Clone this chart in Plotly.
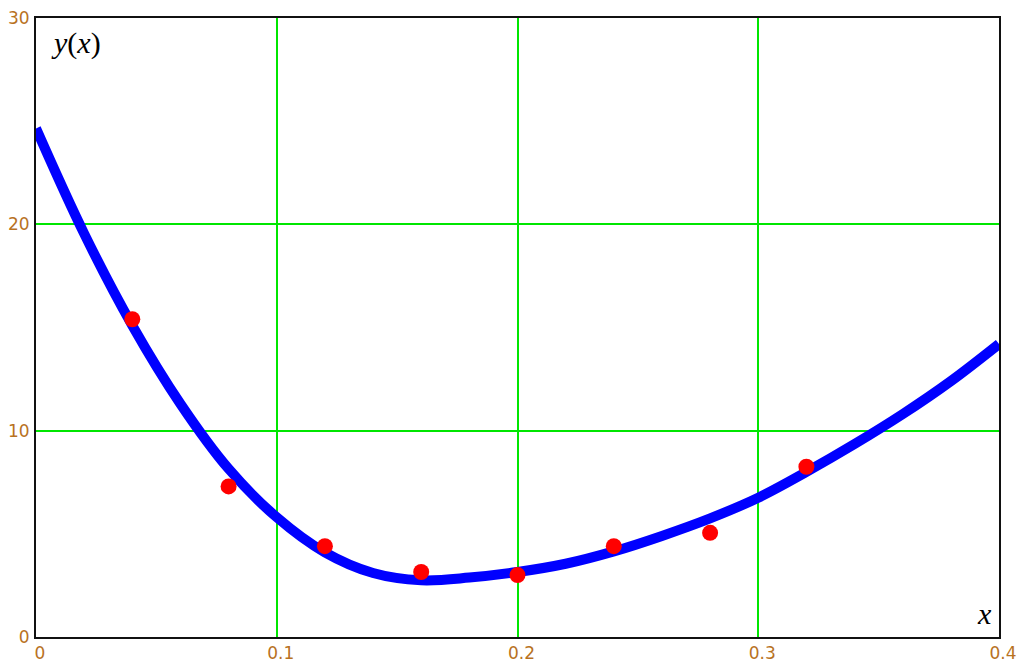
import plotly.graph_objects as go

# Data points (red markers)
pts_x = [0.04, 0.08, 0.12, 0.16, 0.20, 0.24, 0.28, 0.32]
pts_y = [15.4, 7.3, 4.4, 3.15, 3.0, 4.4, 5.05, 8.25]

# Fitted curve y(x)
curve_x = [0.00, 0.02, 0.04, 0.06, 0.08, 0.10, 0.12, 0.14, 0.16, 0.18, 0.20,
           0.22, 0.24, 0.26, 0.28, 0.30, 0.32, 0.34, 0.36, 0.38, 0.40]
curve_y = [24.65, 19.55, 15.1, 11.3, 8.15, 5.8, 4.1, 3.1, 2.75, 2.88, 3.15,
           3.55, 4.15, 4.9, 5.75, 6.75, 8.0, 9.35, 10.8, 12.4, 14.2]

x_ticks = [0, 0.1, 0.2, 0.3, 0.4]
x_ticktext = ["0", "0.1", "0.2", "0.3", "0.4"]
y_ticks = [0, 10, 20, 30]
y_ticktext = ["0", "10", "20", "30"]

tick_color = "#b8721f"
grid_color = "#00e600"

fig = go.Figure()
fig.add_trace(go.Scatter(
    x=curve_x, y=curve_y, mode="lines",
    line=dict(color="#0000ff", width=10, shape="spline", smoothing=1.0),
    showlegend=False, hoverinfo="skip"))
fig.add_trace(go.Scatter(
    x=pts_x, y=pts_y, mode="markers",
    marker=dict(color="#ff0000", size=16, line=dict(width=0)),
    showlegend=False, cliponaxis=False))

fig.update_layout(
    width=1022, height=663,
    margin=dict(l=36, r=23, t=18, b=26, pad=0),
    paper_bgcolor="white", plot_bgcolor="white",
    xaxis=dict(range=[0, 0.4], tickvals=x_ticks, ticktext=x_ticktext,
               showgrid=True, gridcolor=grid_color, gridwidth=2,
               zeroline=False, showline=True, linecolor="#111111",
               linewidth=2, mirror=True, ticks="", automargin=False,
               tickfont=dict(family="DejaVu Sans", size=17, color=tick_color),
               ticklabelshift=4, ticklabelstandoff=0),
    yaxis=dict(range=[0, 30], tickvals=y_ticks, ticktext=y_ticktext,
               showgrid=True, gridcolor=grid_color, gridwidth=2,
               zeroline=False, showline=True, linecolor="#111111",
               linewidth=2, mirror=True, ticks="", automargin=False,
               tickfont=dict(family="DejaVu Sans", size=17, color=tick_color),
               ticklabelstandoff=1),
    annotations=[
        dict(text="<i>y</i>(<i>x</i>)", xref="paper", yref="paper",
             x=0.014, y=0.99, xanchor="left", yanchor="top", showarrow=False,
             font=dict(family="Liberation Serif", size=30, color="black")),
        dict(text="<i>x</i>", xref="paper", yref="paper",
             x=0.995, y=0.008, xanchor="right", yanchor="bottom", showarrow=False,
             font=dict(family="Liberation Serif", size=30, color="black")),
    ],
)

fig.write_html("out.html")
